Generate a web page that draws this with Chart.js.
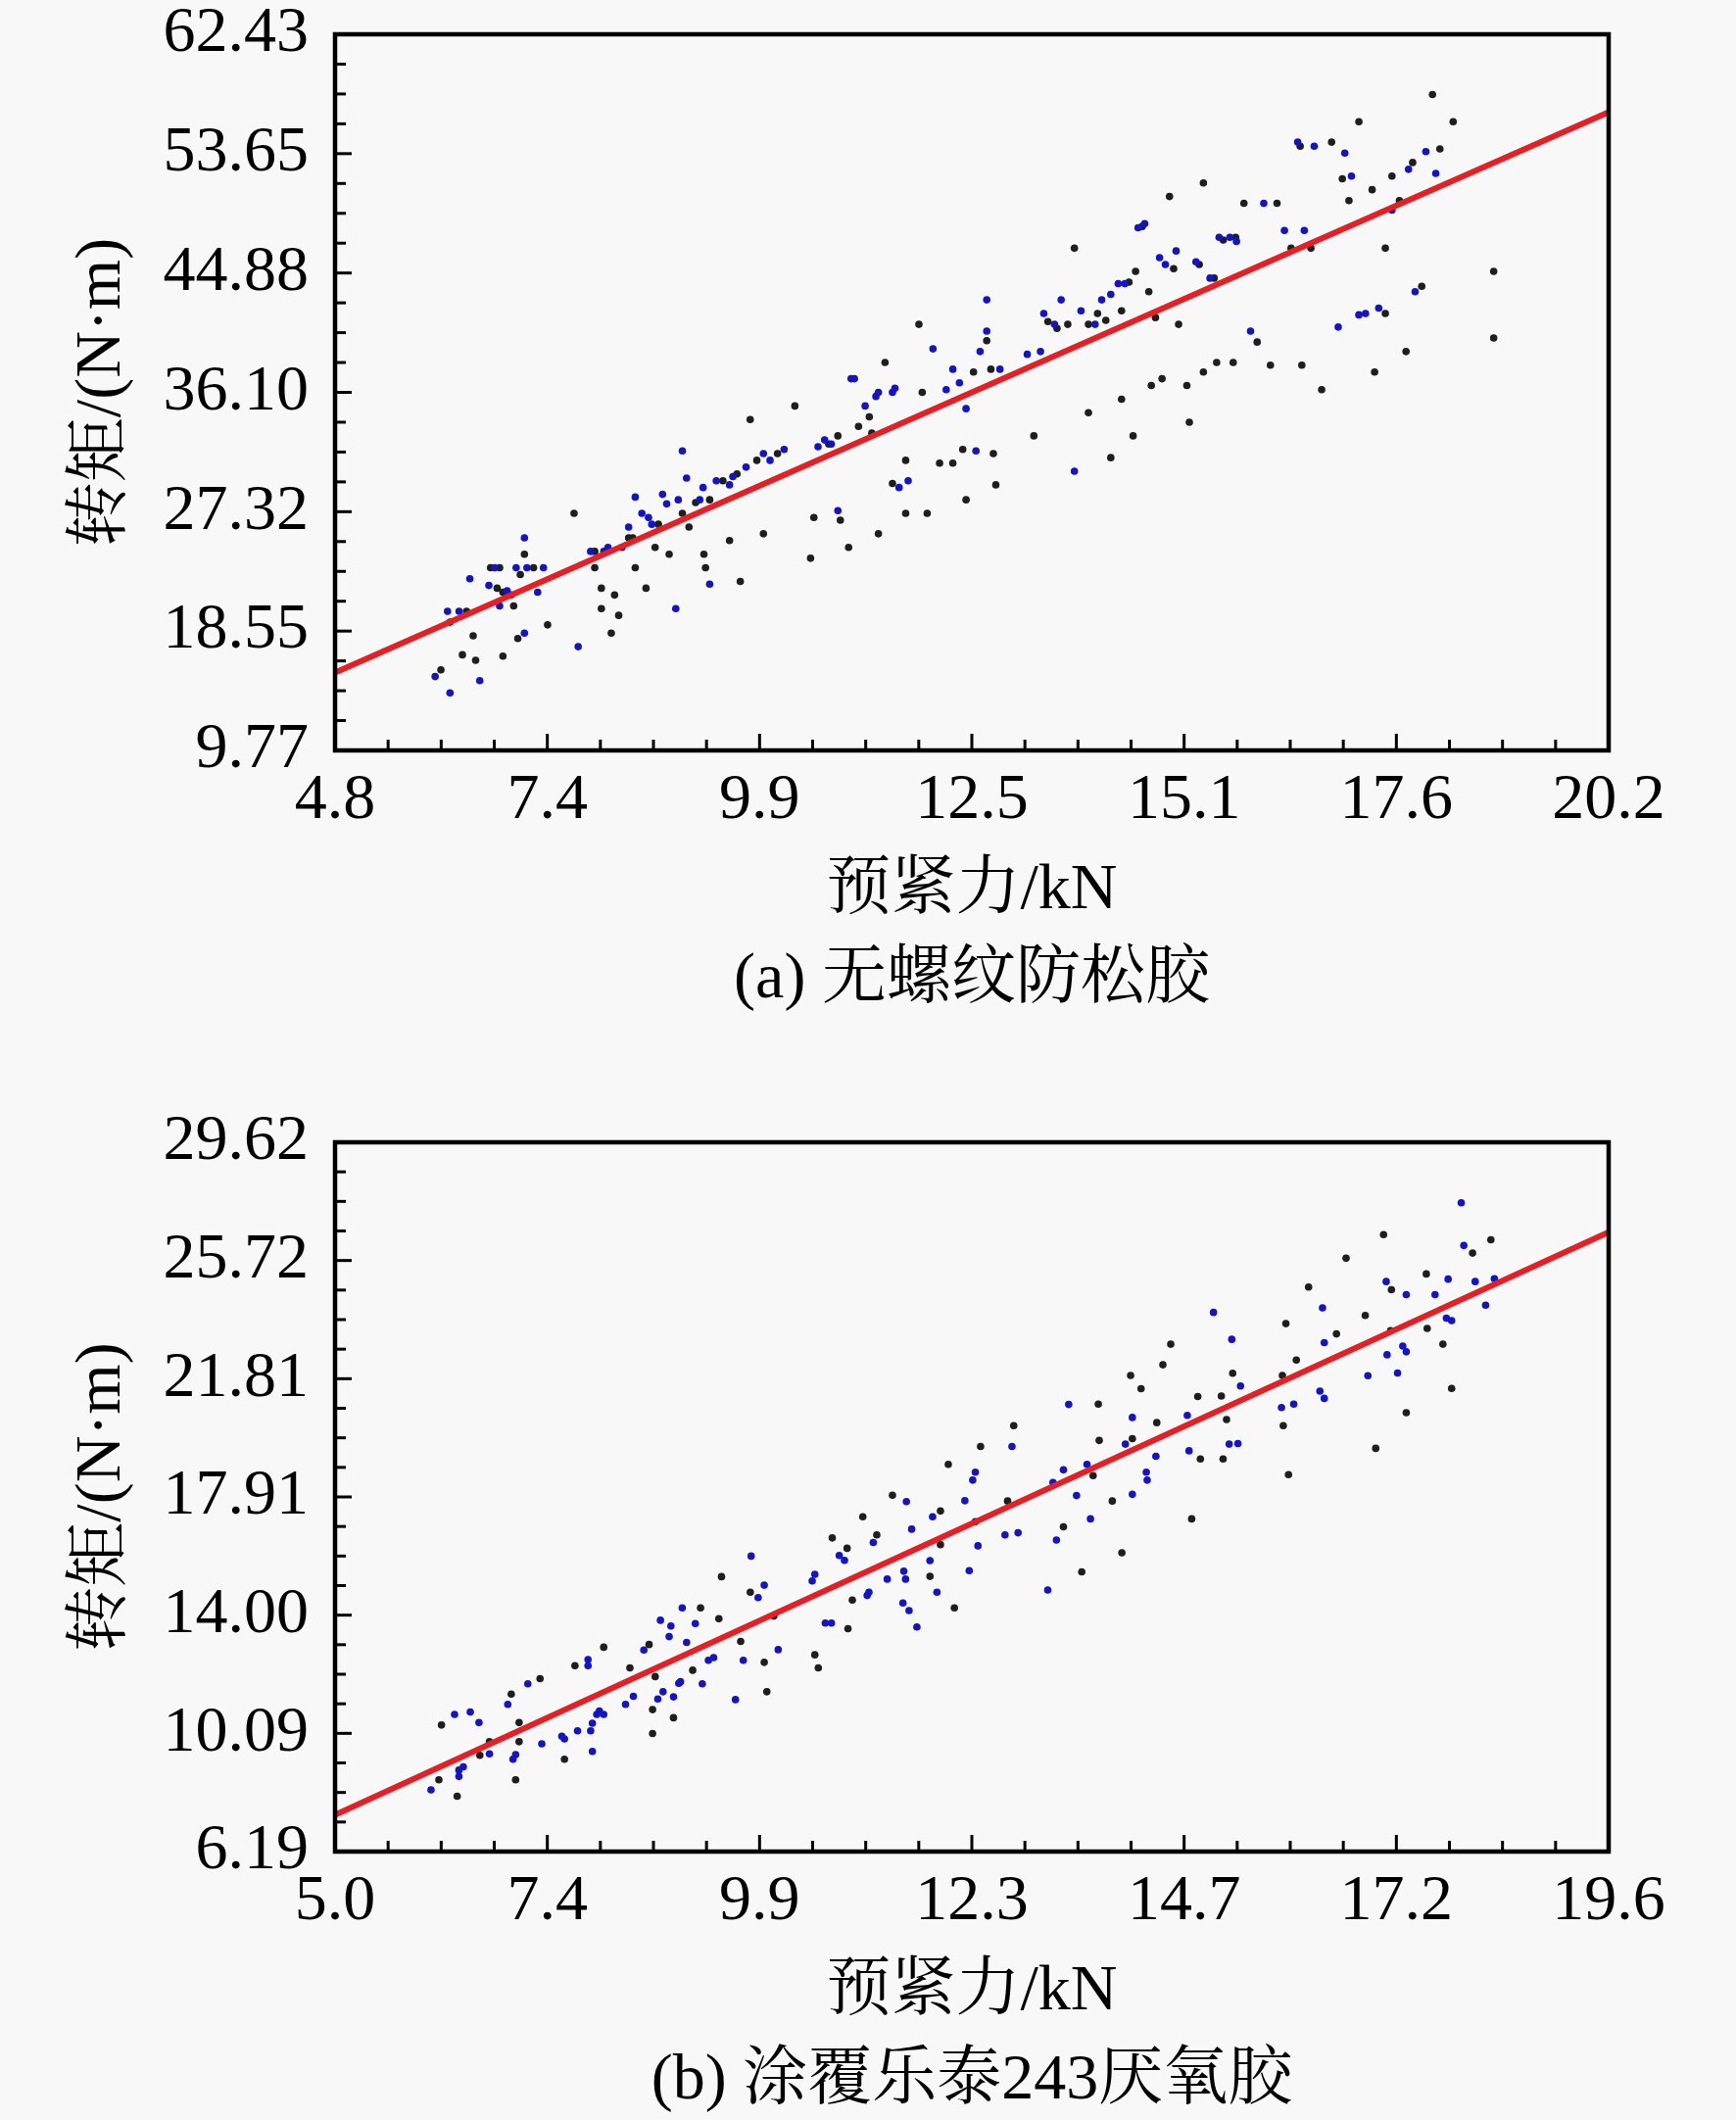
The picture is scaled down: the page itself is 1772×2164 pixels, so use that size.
<!DOCTYPE html>
<html><head><meta charset="utf-8">
<script src="https://cdn.jsdelivr.net/npm/chart.js@4.4.0/dist/chart.umd.min.js"></script>
<style>
html,body{margin:0;padding:0;background:#f8f8f8;}
#wrap{position:relative;width:1772px;height:2164px;background:#f8f8f8;overflow:hidden;}
canvas{position:absolute;left:0;}
</style></head><body>
<div id="wrap">
<canvas id="ca" style="top:0px;width:1772px;height:1060px"></canvas>
<canvas id="cb" style="top:1090px;width:1772px;height:1074px"></canvas>
</div>
<script>
// ---------- Chart (a) ----------
const aXTicks = ['4.8','7.4','9.9','12.5','15.1','17.6','20.2'];
const aYTicks = ['9.77','18.55','27.32','36.10','44.88','53.65','62.43'];
const aXTitle = '预紧力/kN';
const aYTitle = '转矩/(N·m)';
const aCaption = '(a) 无螺纹防松胶';
const aFit = [[4.8,15.5],[20.2,56.7]];
const aBlue = [
[6.01,15.2],[6.19,14.0],[6.16,20.0],[6.30,20.0],[6.43,22.4],[6.55,14.9],[6.66,21.9],[6.73,23.2],[6.79,20.4],[6.88,21.5],[6.93,21.2],[6.99,23.2],[7.09,25.4],[7.12,23.2],[7.32,23.2],[7.25,21.4],[7.09,18.4],
[7.74,17.4],[7.89,24.4],[8.05,24.4],[8.10,24.7],[8.27,24.7],[8.35,26.2],[8.43,28.4],[8.51,27.2],[8.59,26.9],[8.63,26.4],[8.76,28.6],[8.81,27.9],[8.92,20.2],[8.95,28.2],[9.00,31.8],[9.05,29.8],[9.21,28.2],[9.25,29.1],[9.33,22.0],[9.41,29.6],[9.57,29.3],[9.61,29.9],[9.77,30.6],[9.98,31.6],[10.06,31.1],[10.23,31.9],[10.64,32.1],[10.72,32.6],[10.80,32.3],[10.88,27.4],[11.04,37.1],[11.08,37.1],[11.21,35.1],[11.34,35.8],[11.37,36.1],[11.54,36.1],[11.57,36.4],[11.62,29.1],[11.73,29.6],[12.03,39.3],[12.19,36.3],[12.27,37.8],[12.35,36.8],[12.43,34.9],[12.55,31.8],[12.60,39.1],[12.68,42.9],[12.68,40.6],[12.84,37.8],
[13.17,38.9],[13.33,39.1],[13.37,41.9],[13.50,41.1],[13.58,42.9],[13.74,30.3],[13.82,42.1],[13.99,41.1],[14.07,42.9],[14.18,43.3],[14.27,44.1],[14.35,44.1],[14.51,48.2],[14.59,48.5],[14.77,46.0],[14.84,45.5],[14.97,46.5],[15.21,45.7],[15.38,44.5],[15.49,47.5],[15.62,47.5],[15.70,47.2],[15.87,40.6],[16.03,50.0],[16.28,48.0],[16.44,54.5],[16.52,48.0],[16.64,54.2],[16.93,40.9],[17.01,53.7],[17.09,52.0],[17.18,41.8],[17.26,41.9],[17.42,42.3],[17.58,49.5],[17.78,52.5],[17.86,43.5],[17.99,53.8],[18.11,52.2]
];
const aBlack = [
[6.08,15.7],[6.19,19.2],[6.39,20.0],[6.47,18.2],[6.50,16.4],[6.34,16.8],[6.68,23.2],[6.79,23.2],[6.76,21.7],[6.83,21.4],[6.96,20.4],[7.04,22.7],[7.09,24.2],[7.20,23.2],[7.37,19.0],[7.01,18.0],[6.83,16.7],
[7.69,27.2],[7.94,24.4],[7.94,23.2],[8.02,20.2],[8.02,21.7],[8.14,18.4],[8.18,21.2],[8.23,19.7],[8.35,25.4],[8.40,25.4],[8.43,23.2],[8.56,21.7],[8.67,24.7],[8.71,26.4],[8.84,24.2],[9.00,27.2],[9.08,26.2],[9.16,28.0],[9.26,24.2],[9.28,23.2],[9.33,28.2],[9.49,29.6],[9.57,25.2],[9.66,30.1],[9.70,22.2],[9.82,34.1],[9.90,31.1],[9.98,25.7],[10.15,31.6],[10.36,35.1],[10.55,23.9],[10.59,26.9],[10.77,32.3],[10.88,32.9],[10.91,26.7],[11.01,24.7],[11.13,33.6],[11.26,34.3],[11.29,33.1],[11.37,25.7],[11.45,38.3],[11.54,29.4],[11.70,27.2],[11.70,31.1],[11.86,41.1],[11.90,36.1],[11.96,27.2],[12.11,30.9],[12.27,30.9],[12.39,31.9],[12.43,28.2],[12.52,37.6],[12.68,39.9],[12.73,37.8],[12.76,31.6],[12.79,29.3],
[13.25,32.9],[13.42,41.3],[13.53,40.8],[13.66,41.1],[13.74,46.7],[13.91,34.6],[13.91,41.1],[14.02,41.9],[14.12,41.4],[14.18,31.3],[14.31,35.6],[14.31,42.1],[14.40,44.2],[14.45,32.9],[14.48,45.0],[14.56,48.3],[14.64,43.5],[14.67,36.6],[14.72,41.6],[14.80,37.1],[14.89,50.5],[14.94,45.2],[15.00,41.1],[15.10,36.6],[15.13,33.9],[15.25,45.5],[15.30,51.5],[15.30,37.6],[15.43,44.5],[15.46,38.3],[15.54,47.3],[15.66,38.3],[15.69,47.5],[15.79,50.0],[15.95,39.8],[16.11,38.1],[16.19,50.0],[16.36,46.7],[16.47,54.2],[16.49,38.1],[16.60,46.7],[16.73,36.3],[16.85,54.5],[16.98,51.8],[17.06,50.2],[17.18,56.0],[17.34,51.0],[17.37,37.6],[17.50,41.9],[17.50,46.7],[17.58,52.0],[17.67,50.2],[17.75,39.1],[17.83,53.0],[17.94,43.9],[18.07,58.0],[18.16,54.0],[18.32,56.0],[18.81,45.0],[18.81,40.1]
];

// ---------- Chart (b) ----------
const bXTicks = ['5.0','7.4','9.9','12.3','14.7','17.2','19.6'];
const bYTicks = ['6.19','10.09','14.00','17.91','21.81','25.72','29.62'];
const bXTitle = '预紧力/kN';
const bYTitle = '转矩/(N·m)';
const bCaption = '(b) 涂覆乐泰243厌氧胶';
const bFit = [[5.0,7.4],[19.6,26.65]];
const bBlue = [
[6.10,8.23],[6.42,8.67],[6.42,8.88],[6.47,8.99],[6.77,9.42],[6.37,10.72],[6.55,10.80],[6.65,10.45],[6.98,11.05],[7.21,11.73],[7.07,9.39],[7.04,9.24],[7.37,9.75],[7.60,10.00],[7.63,9.91],[7.78,10.18],[7.93,10.18],[7.95,10.43],[7.95,9.50],[8.00,10.72],[8.03,10.83],[8.08,10.72],[7.90,12.53],[7.90,12.33],[8.33,11.05],[8.42,11.32],[8.54,12.85],[8.70,11.23],[8.76,11.47],[8.88,11.30],[8.94,11.75],[8.96,11.80],[8.73,13.83],[8.85,13.64],[8.83,13.29],[9.03,13.10],[9.13,13.72],[8.98,14.24],[9.21,11.73],[9.28,12.51],[9.34,12.60],[9.59,11.21],[9.68,12.51],[9.77,15.95],[9.85,14.58],[9.92,14.99],[10.08,12.86],
[10.50,15.35],[10.47,15.13],[10.62,13.74],[10.69,13.74],[11.10,14.65],[11.12,14.76],[10.78,15.97],[10.84,15.81],[11.17,16.40],[11.33,15.19],[11.55,17.75],[11.52,15.45],[11.54,15.19],[11.51,14.40],[11.58,14.15],[11.67,13.61],[11.82,15.80],[11.90,14.76],[11.61,16.84],[11.85,17.25],[12.22,17.78],[12.27,15.47],[12.31,18.46],[12.34,18.72],[12.37,16.29],[12.68,16.65],[12.76,19.57],[12.83,16.72],[13.17,14.83],[13.23,18.38],[13.27,16.48],[13.35,18.80],[13.41,20.96],[13.50,17.95],[13.62,18.98],[13.66,17.18],[14.06,19.65],[14.14,20.53],[14.14,17.99],[14.30,18.72],[14.31,18.46],[14.41,19.25],
[14.77,20.60],[14.79,19.43],[15.07,24.00],[15.25,19.65],[15.35,19.67],[15.28,23.11],[15.38,21.57],[15.85,20.86],[15.99,20.97],[16.29,21.40],[16.34,21.16],[16.32,24.15],[16.34,23.00],[16.84,21.91],[17.05,25.02],[17.06,22.60],[17.18,22.00],[17.24,22.89],[17.28,22.70],[17.28,24.59],[17.61,24.59],[17.74,23.81],[17.80,23.73],[17.76,25.10],[17.91,27.62],[17.94,26.21],[18.07,25.02],[18.19,24.24],[18.29,25.11]
];
const bBlack = [
[6.40,8.02],[6.19,8.56],[6.66,9.37],[6.77,9.82],[6.22,10.37],[7.02,11.39],[7.35,11.90],[7.11,10.45],[7.11,9.82],[7.07,8.56],[7.63,9.24],[7.75,12.33],[8.08,12.94],[8.38,12.26],[8.60,13.03],[8.64,10.88],[8.64,10.09],[8.67,11.97],[8.88,10.61],[9.19,14.24],[9.10,12.18],[9.40,13.88],[9.43,15.27],[9.65,13.13],[9.76,14.76],[9.92,12.44],[9.95,11.47],[10.03,13.97],[10.50,12.69],[10.54,12.26],
[10.88,13.55],[10.93,14.50],[10.87,16.21],[10.70,16.55],[11.05,17.25],[11.21,16.65],[11.39,17.96],[11.82,15.28],[11.94,16.33],[11.94,17.44],[12.10,14.24],[12.03,18.98],[12.34,17.09],[12.40,19.57],[12.71,17.77],[12.78,20.26],[13.35,16.92],[13.56,15.43],[13.69,18.61],[13.75,20.97],[13.76,19.77],[13.91,17.77],[14.02,16.06],[14.14,19.83],[14.12,21.92],[14.24,21.48],[14.42,20.36],[14.49,22.27],[14.58,22.95],[14.82,17.18],
[14.89,21.22],[14.92,19.16],[15.16,21.24],[15.18,19.16],[15.22,20.46],[15.29,21.99],[15.87,20.26],[15.86,21.92],[15.90,23.63],[15.93,18.64],[16.02,22.43],[16.16,24.84],[16.48,23.29],[16.59,25.79],[16.81,23.90],[16.93,19.51],[17.02,26.57],[17.11,24.75],[17.10,23.40],[17.28,20.69],[17.52,23.47],[17.51,25.27],[17.70,22.95],[17.80,21.49],[18.04,25.96],[18.25,26.40]
];

// ---------- rendering ----------
const FAMILY = "'Liberation Serif','Noto Serif CJK SC','Noto Sans CJK SC',serif";
const MINOR = 4;

const frameTicks = {
  id: 'frameTicks',
  afterDraw(chart) {
    const {ctx, chartArea: a, scales: {x, y}} = chart;
    ctx.save();
    ctx.strokeStyle = '#000';
    ctx.lineWidth = 3;
    x.ticks.forEach((t, i) => {
      const px = x.getPixelForValue(t.value);
      const len = i % MINOR === 0 ? 17 : 11;
      ctx.beginPath(); ctx.moveTo(px, a.bottom); ctx.lineTo(px, a.bottom - len); ctx.stroke();
    });
    y.ticks.forEach((t, i) => {
      const py = y.getPixelForValue(t.value);
      const len = i % MINOR === 0 ? 17 : 11;
      ctx.beginPath(); ctx.moveTo(a.left, py); ctx.lineTo(a.left + len, py); ctx.stroke();
    });
    ctx.lineWidth = 4.5;
    ctx.strokeRect(a.left, a.top, a.right - a.left, a.bottom - a.top);
    ctx.restore();
  }
};

function pts(arr) { return arr.map(p => ({x: p[0], y: p[1]})); }

function buildTicks(labels) {
  return function(scale) {
    const lo = parseFloat(labels[0]);
    const hi = parseFloat(labels[labels.length - 1]);
    const n = (labels.length - 1) * MINOR;
    const out = [];
    for (let i = 0; i <= n; i++) out.push({value: lo + (hi - lo) * i / n});
    scale.ticks = out;
  };
}

function makeChart(id, w, h, padTop, padBottom, xLabels, yLabels, xTitle, yTitle, caption, blue, black, fit) {
  const cv = document.getElementById(id);
  cv.width = w; cv.height = h;
  new Chart(cv, {
    type: 'scatter',
    data: {
      datasets: [
        {type: 'line', data: pts(fit), borderColor: '#e81e25', borderWidth: 6, pointRadius: 0, order: 0, tension: 0},
        {data: pts(blue), backgroundColor: '#1414c0', borderWidth: 0, pointRadius: 3.8, order: 1},
        {data: pts(black), backgroundColor: '#1e1e1e', borderWidth: 0, pointRadius: 3.8, order: 2}
      ]
    },
    options: {
      responsive: false,
      devicePixelRatio: 1,
      animation: false,
      layout: {padding: {top: padTop, right: 130, left: 0, bottom: padBottom}},
      plugins: {
        legend: {display: false},
        tooltip: {enabled: false},
        title: {display: false}
      },
      scales: {
        x: {
          type: 'linear',
          min: parseFloat(xLabels[0]), max: parseFloat(xLabels[xLabels.length - 1]),
          afterBuildTicks: buildTicks(xLabels),
          afterFit: s => { s.height = 274; s.paddingLeft = 0; s.paddingRight = 0; },
          grid: {display: false, drawTicks: false},
          border: {display: false},
          ticks: {
            autoSkip: false, maxRotation: 0, minRotation: 0, padding: 19, color: '#000',
            font: {family: FAMILY, size: 66, lineHeight: 1},
            callback: (v, i) => (i % MINOR === 0 ? xLabels[i / MINOR] : '')
          },
          title: {display: true, text: [xTitle, caption], color: '#000',
            font: {family: FAMILY, size: 66, lineHeight: 1.38}, padding: {top: 0, bottom: -6}}
        },
        y: {
          type: 'linear',
          min: parseFloat(yLabels[0]), max: parseFloat(yLabels[yLabels.length - 1]),
          afterBuildTicks: buildTicks(yLabels),
          afterFit: s => { s.width = 342; s.paddingTop = 0; s.paddingBottom = 0; },
          grid: {display: false, drawTicks: false},
          border: {display: false},
          ticks: {
            autoSkip: false, padding: 27, color: '#000',
            font: {family: FAMILY, size: 66, lineHeight: 1},
            callback: (v, i) => (i % MINOR === 0 ? yLabels[i / MINOR] : '')
          },
          title: {display: true, text: yTitle, color: '#000',
            font: {family: FAMILY, size: 66, lineHeight: 1.2}, padding: {top: 65, bottom: 0}}
        }
      }
    },
    plugins: [frameTicks]
  });
}

makeChart('ca', 1772, 1060, 35, 20, aXTicks, aYTicks, aXTitle, aYTitle, aCaption, aBlue, aBlack, aFit);
makeChart('cb', 1772, 1074, 76, 0, bXTicks, bYTicks, bXTitle, bYTitle, bCaption, bBlue, bBlack, bFit);
</script>
</body></html>
